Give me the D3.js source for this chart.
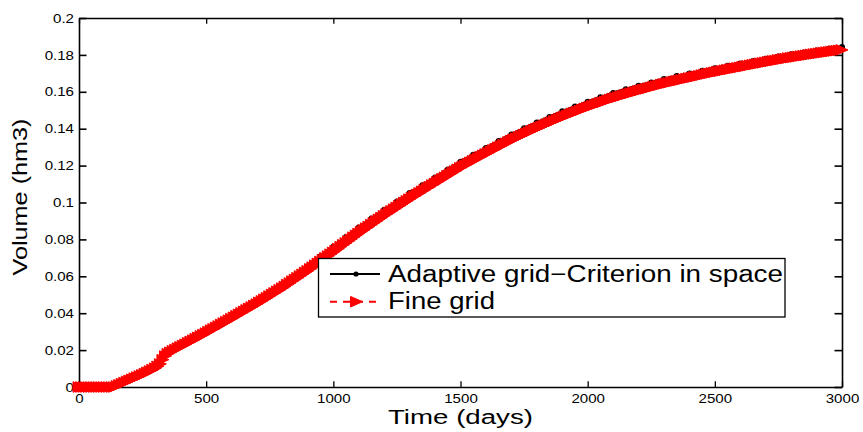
<!DOCTYPE html>
<html><head><meta charset="utf-8">
<script src="https://cdn.jsdelivr.net/npm/d3@7"></script>
<style>body{margin:0;background:#fff}svg{display:block}text{font-family:"Liberation Sans",Arial,Helvetica,sans-serif;fill:#000}</style>
</head><body><svg id="chart" width="863" height="432"></svg>
<script>
// ---- data ----
const xTicks = [0, 500, 1000, 1500, 2000, 2500, 3000];
const xTickLabels = ["0", "500", "1000", "1500", "2000", "2500", "3000"];
const yTicks = [0, 0.02, 0.04, 0.06, 0.08, 0.1, 0.12, 0.14, 0.16, 0.18, 0.2];
const yTickLabels = ["0", "0.02", "0.04", "0.06", "0.08", "0.1", "0.12", "0.14", "0.16", "0.18", "0.2"];
const seriesNames = ["Adaptive grid\u2212Criterion in space", "Fine grid"];
const xLabel = "Time (days)";
const yLabel = "Volume (hm3)";

const fineTime = d3.range(0, 3001, 10);
const fineVolume = [
  0,0,0,0,0,0,0,0,0,0,0,0,0,0,0,
  0.0006,0.0012,0.0018,0.0024,0.0030,0.0036,
  0.0042,0.0048,0.0054,0.0060,0.0066,
  0.0073,0.0080,0.0087,0.0094,0.0102,
  0.0112,0.0125,0.0148,0.0168,0.0180,0.0188,
  0.0196,0.0203,0.0211,0.0218,
  0.0225,0.0232,0.0240,0.0247,0.0254,
  0.0262,0.0269,0.0277,0.0284,0.0292,
  0.0300,0.0308,0.0315,0.0323,0.0331,0.0339,0.0347,0.0354,0.0362,0.0370,
  0.0378,0.0386,0.0394,0.0402,0.0410,0.0418,0.0426,0.0434,0.0442,0.0450,
  0.0459,0.0467,0.0476,0.0484,0.0493,0.0502,0.0510,0.0519,0.0527,0.0536,
  0.0545,0.0555,0.0564,0.0574,0.0583,0.0592,0.0602,0.0611,0.0621,0.0630,
  0.0640,0.0650,0.0660,0.0670,0.0680,0.0690,0.0700,0.0710,0.0720,0.0730,
  0.0740,0.0750,0.0761,0.0771,0.0781,0.0791,0.0801,0.0812,0.0822,0.0832,
  0.0842,0.0851,0.0861,0.0870,0.0880,0.0890,0.0899,0.0909,0.0918,0.0928,
  0.0937,0.0946,0.0955,0.0964,0.0973,0.0982,0.0991,0.1000,0.1009,0.1018,
  0.1027,0.1035,0.1044,0.1052,0.1061,0.1069,0.1078,0.1086,0.1095,0.1103,
  0.1112,0.1120,0.1129,0.1137,0.1146,0.1154,0.1163,0.1171,0.1180,0.1188,
  0.1196,0.1203,0.1211,0.1218,0.1226,0.1233,0.1241,0.1248,0.1256,0.1263,
  0.1270,0.1278,0.1285,0.1292,0.1300,0.1307,0.1314,0.1321,0.1329,0.1336,
  0.1343,0.1349,0.1356,0.1362,0.1369,0.1375,0.1382,0.1388,0.1395,0.1401,
  0.1407,0.1413,0.1419,0.1425,0.1431,0.1437,0.1443,0.1449,0.1455,0.1461,
  0.1466,0.1472,0.1477,0.1483,0.1488,0.1493,0.1499,0.1504,0.1510,0.1515,
  0.1520,0.1525,0.1530,0.1535,0.1540,0.1544,0.1549,0.1554,0.1559,0.1564,
  0.1568,0.1572,0.1576,0.1580,0.1585,0.1589,0.1593,0.1597,0.1601,0.1605,
  0.1609,0.1613,0.1616,0.1620,0.1624,0.1628,0.1632,0.1635,0.1639,0.1643,
  0.1646,0.1649,0.1653,0.1656,0.1659,0.1662,0.1665,0.1669,0.1672,0.1675,
  0.1678,0.1681,0.1684,0.1687,0.1691,0.1694,0.1697,0.1700,0.1703,0.1706,
  0.1709,0.1711,0.1714,0.1717,0.1720,0.1722,0.1725,0.1728,0.1730,0.1733,
  0.1736,0.1738,0.1741,0.1744,0.1747,0.1749,0.1752,0.1755,0.1757,0.1760,
  0.1763,0.1765,0.1768,0.1770,0.1773,0.1775,0.1778,0.1780,0.1783,0.1785,
  0.1787,0.1789,0.1792,0.1794,0.1796,0.1798,0.1800,0.1803,0.1805,0.1807,
  0.1809,0.1811,0.1813,0.1815,0.1817,0.1819,0.1821,0.1823,0.1825,0.1827
];

// Adaptive grid: time sampled every 50 days
const adaptTime = d3.range(0, 3001, 50);
const adaptVolume = [
  0,0,0,
  0.0006,0.0036,0.0066,0.0102,0.0180,0.0218,0.0256,0.0295,
  0.0335,0.0376,0.0419,0.0462,0.0508,0.0554,0.0605,0.0655,0.0708,0.0760,
  0.0813,0.0865,0.0913,0.0961,0.1006,0.1051,0.1094,0.1136,0.1179,0.1221,
  0.1259,0.1296,0.1333,0.1369,0.1402,0.1434,0.1464,0.1494,0.1520,0.1546,
  0.1570,0.1594,0.1614,0.1633,0.1651,0.1670,0.1685,0.1699,0.1714,0.1728,
  0.1741,0.1754,0.1767,0.1779,0.1791,0.1803,0.1813,0.1824,0.1833,0.1843
];

// ---- layout ----
const svg = d3.select("#chart");
const L = 79, R = 842, T = 18, B = 387;
const x = d3.scaleLinear().domain([0, 3000]).range([L, R]);
const y = d3.scaleLinear().domain([0, 0.2]).range([B, T]);

function stretch(sel, k) {
  sel.each(function () {
    const len = this.getComputedTextLength();
    d3.select(this).attr("textLength", len * k).attr("lengthAdjust", "spacingAndGlyphs");
  });
}

// axes
const gB = svg.append("g").attr("transform", `translate(0,${B})`)
  .call(d3.axisBottom(x).tickValues(xTicks).tickFormat((d, i) => xTickLabels[i]).tickSizeInner(-5.7).tickSizeOuter(0));
const gT = svg.append("g").attr("transform", `translate(0,${T})`)
  .call(d3.axisTop(x).tickValues(xTicks).tickFormat("").tickSizeInner(-5.7).tickSizeOuter(0));
const gL = svg.append("g").attr("transform", `translate(${L},0)`)
  .call(d3.axisLeft(y).tickValues(yTicks).tickFormat((d, i) => yTickLabels[i]).tickSizeInner(-7.5).tickSizeOuter(0).tickPadding(5));
const gR = svg.append("g").attr("transform", `translate(${R},0)`)
  .call(d3.axisRight(y).tickValues(yTicks).tickFormat("").tickSizeInner(-7.5).tickSizeOuter(0));

[gB, gT].forEach(g => { g.select(".domain").attr("stroke", "#000").attr("stroke-width", 1.3); g.selectAll(".tick line").attr("stroke", "#000").attr("stroke-width", 1.3); });
[gL, gR].forEach(g => { g.select(".domain").attr("stroke", "#000").attr("stroke-width", 1.6); g.selectAll(".tick line").attr("stroke", "#000").attr("stroke-width", 1.6); });
svg.selectAll(".tick text").attr("font-size", 13).attr("font-family", '"Liberation Sans",Arial,sans-serif').attr("fill", "#000");
gB.selectAll(".tick text").attr("y", 15.5).attr("dy", 0);
stretch(svg.selectAll(".tick text"), 1.16);

// axis labels
svg.append("text").attr("x", (L + R) / 2).attr("y", 423.5).attr("text-anchor", "middle")
  .attr("font-size", 20).attr("textLength", 145).attr("lengthAdjust", "spacingAndGlyphs").text(xLabel);
svg.append("text").attr("transform", "translate(27,197) rotate(-90)").attr("text-anchor", "middle")
  .attr("font-size", 21).attr("textLength", 157).attr("lengthAdjust", "spacingAndGlyphs").text(yLabel);

// series
const fine = fineTime.map((t, i) => [t, fineVolume[i]]);
const adapt = adaptTime.map((t, i) => [t, adaptVolume[i]]);
const line = d3.line().x(d => x(d[0])).y(d => y(d[1]));
const tri = "M-6,-5.3L6,0L-6,5.3Z";

svg.append("path").datum(adapt).attr("d", line).attr("fill", "none").attr("stroke", "#000").attr("stroke-width", 2.8);
svg.append("g").selectAll("circle").data(adapt).join("circle")
  .attr("cx", d => x(d[0])).attr("cy", d => y(d[1])).attr("r", 3).attr("fill", "#000");

svg.append("path").datum(fine).attr("d", line).attr("fill", "none").attr("stroke", "#f00").attr("stroke-width", 2).attr("stroke-dasharray", "7,6");
svg.append("g").selectAll("path").data(fine).join("path")
  .attr("d", tri).attr("transform", d => `translate(${x(d[0])},${y(d[1])})`)
  .attr("fill", "#f00").attr("stroke", "#f00").attr("stroke-width", 1);

// legend
const lg = svg.append("g");
lg.append("rect").attr("x", 318.5).attr("y", 258.5).attr("width", 466.5).attr("height", 58.5)
  .attr("fill", "#fff").attr("stroke", "#000").attr("stroke-width", 1.3);
lg.append("line").attr("x1", 330).attr("x2", 380).attr("y1", 274).attr("y2", 274).attr("stroke", "#000").attr("stroke-width", 2);
lg.append("circle").attr("cx", 356).attr("cy", 274).attr("r", 2.6).attr("fill", "#000");
lg.append("text").attr("x", 388).attr("y", 281.7).attr("font-size", 23).attr("textLength", 395).attr("lengthAdjust", "spacingAndGlyphs").text(seriesNames[0]);
lg.append("line").attr("x1", 330).attr("x2", 380).attr("y1", 301.7).attr("y2", 301.7).attr("stroke", "#f00").attr("stroke-width", 2).attr("stroke-dasharray", "7,6");
lg.append("path").attr("d", tri).attr("transform", "translate(356.5,301.7)").attr("fill", "#f00").attr("stroke", "#f00");
lg.append("text").attr("x", 388).attr("y", 309.3).attr("font-size", 23).attr("textLength", 107).attr("lengthAdjust", "spacingAndGlyphs").text(seriesNames[1]);
</script></body></html>
